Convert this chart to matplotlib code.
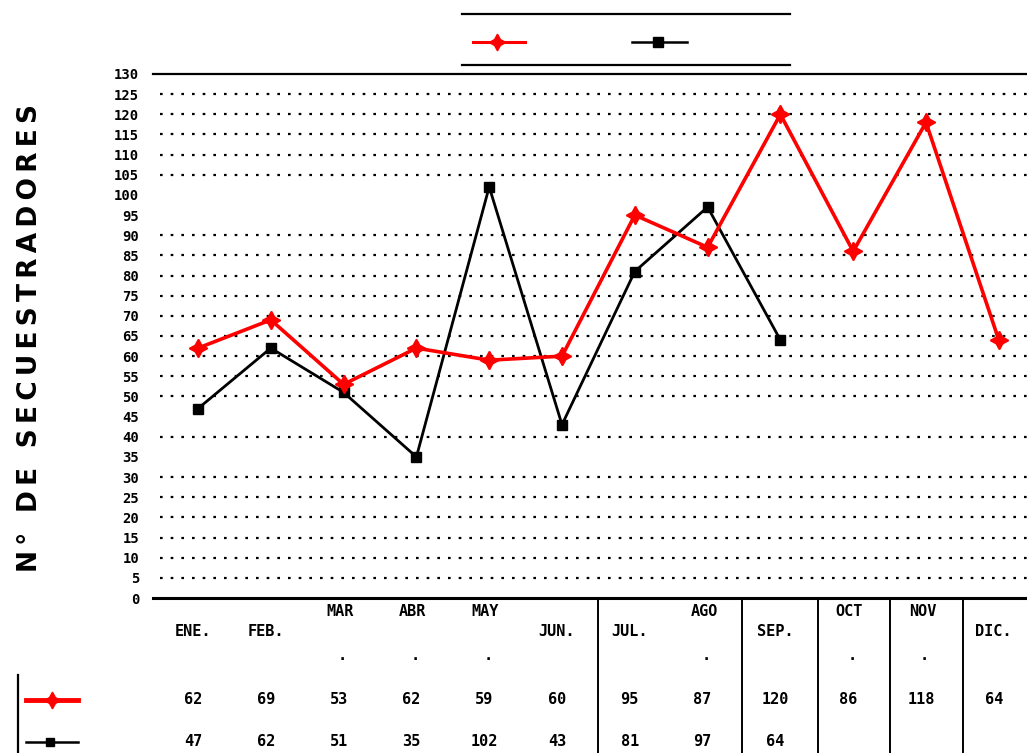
import matplotlib
matplotlib.use("Agg")
import matplotlib.pyplot as plt
from matplotlib.lines import Line2D
from matplotlib import transforms

# ---- data ----
months = ['ENE.', 'FEB.', 'MAR', 'ABR', 'MAY', 'JUN.', 'JUL.', 'AGO', 'SEP.', 'OCT', 'NOV', 'DIC.']
red_values = [62, 69, 53, 62, 59, 60, 95, 87, 120, 86, 118, 64]
black_values = [47, 62, 51, 35, 102, 43, 81, 97, 64]
y_ticks = list(range(0, 131, 5))
missing_grid = [35, 45, 95, 100]
y_label = "N° DE SECUESTRADORES"

W, H = 1027, 753
fig = plt.figure(figsize=(W / 100, H / 100), dpi=100)

def fx(p):
    return p / W

def fy(p):
    return 1 - p / H

# main axes: x pixels 153..1027, y pixels 74 (130) .. 598 (0)
ax = fig.add_axes([fx(153), fy(598), fx(1027 - 153), (598 - 74) / H])
step = 72.8
x0 = 198
ax.set_xlim((153 - x0) / step, (1027 - x0) / step)
ax.set_ylim(0, 130)

xs = list(range(len(months)))

# grid lines
for v in y_ticks[1:-1]:
    if v in missing_grid:
        continue
    ax.axhline(v, xmin=7 / 874, xmax=1, color='black', lw=1.6,
               linestyle=(0, (1.2, 3.6)), zorder=1)

ax.plot(xs[:len(red_values)], red_values, color='#ff0000', lw=2.6,
        marker=(4, 1, 0), markersize=13, markeredgewidth=1.2, zorder=3)
ax.plot(xs[:len(black_values)], black_values, color='black', lw=2.0,
        marker='s', markersize=7, zorder=2)

for s in ['left', 'right']:
    ax.spines[s].set_visible(False)
ax.spines['top'].set_linewidth(1.6)
ax.spines['bottom'].set_linewidth(2.2)
ax.set_xticks([])
ax.set_yticks(y_ticks)
ax.set_yticklabels([str(v) for v in y_ticks], family='DejaVu Sans Mono',
                   fontweight='bold', fontsize=10)
ax.tick_params(axis='y', length=0, pad=10)

# y label (letter-spaced like the reference)
fig.text(fx(30), fy(338), '\u2009'.join(y_label), rotation=90, ha='center', va='center',
         fontsize=19, fontweight='bold', family='DejaVu Sans')

# legend box at top
for yy in (14, 65):
    fig.add_artist(Line2D([fx(462), fx(790)], [fy(yy), fy(yy)], color='black', lw=1.6))
fig.add_artist(Line2D([fx(473), fx(497), fx(525)], [fy(42)] * 3, color='#ff0000', lw=2.2,
                      marker=(4, 1, 0), markersize=12, markevery=[1]))
fig.add_artist(Line2D([fx(632), fx(658), fx(687)], [fy(42)] * 3, color='black', lw=1.8,
                      marker='s', markersize=7, markevery=[1]))

# table below
trans = transforms.blended_transform_factory(ax.transData, fig.transFigure)
tfont = dict(family='DejaVu Sans Mono', fontweight='bold', fontsize=11)
for i, m in enumerate(months):
    if m.endswith('.'):
        ax.text(i - 0.07, fy(632), m, transform=trans, ha='center', va='center',
                clip_on=False, **tfont)
    else:
        ax.text(i - 0.05, fy(612), m, transform=trans, ha='center', va='center',
                clip_on=False, **tfont)
        ax.text(i - 0.02, fy(656), '.', transform=trans, ha='center', va='center',
                clip_on=False, **tfont)
for i, v in enumerate(red_values):
    ax.text(i - 0.07, fy(700), str(v), transform=trans, ha='center', va='center',
            clip_on=False, **tfont)
for i, v in enumerate(black_values):
    ax.text(i - 0.07, fy(741), str(v), transform=trans, ha='center', va='center',
            clip_on=False, **tfont)

for xp in (598, 742, 818, 890, 963):
    fig.add_artist(Line2D([fx(xp), fx(xp)], [fy(598), 0], color='black', lw=1.4))
fig.add_artist(Line2D([fx(18), fx(18)], [fy(675), 0], color='black', lw=1.6))
fig.add_artist(Line2D([fx(26), fx(52), fx(78)], [fy(700)] * 3, color='#ff0000', lw=3.5,
                      marker=(4, 1, 0), markersize=12, markevery=[1]))
fig.add_artist(Line2D([fx(26), fx(50), fx(78)], [fy(742)] * 3, color='black', lw=1.8,
                      marker='s', markersize=6, markevery=[1]))

fig.savefig('out.png', dpi=100)
